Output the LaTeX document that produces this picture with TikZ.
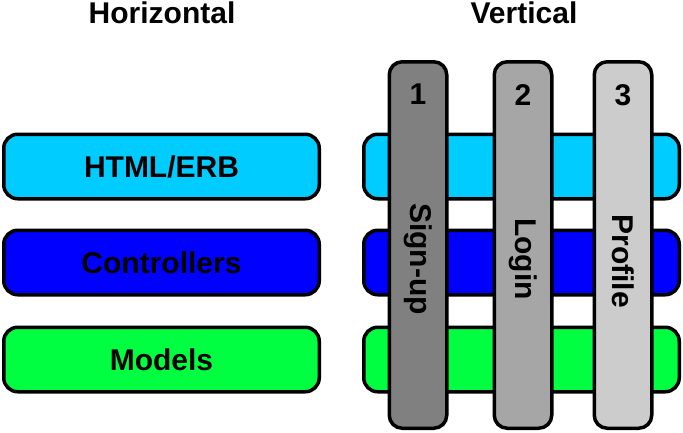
\documentclass[tikz,border=0pt]{standalone}
\usepackage{fontspec}
\setmainfont{Liberation Sans}
\usetikzlibrary{positioning}
\definecolor{viewcyan}{HTML}{00CCFF}
\definecolor{ctrlblue}{HTML}{0000FF}
\definecolor{modelgreen}{HTML}{00FF40}
\definecolor{slicedark}{HTML}{808080}
\definecolor{slicemid}{HTML}{A6A6A6}
\definecolor{slicelight}{HTML}{CCCCCC}
\tikzset{heading/.style={inner sep=0pt, font=\fontsize{30}{34}\selectfont\bfseries}}
\tikzset{layer/.style={heading, draw=black, line width=3.5pt, rounded corners=14pt, minimum width=315.5pt, minimum height=64.5pt}}
\tikzset{slice/.style={draw=black, line width=3.5pt, rounded corners=13pt, minimum width=57.5pt, minimum height=366.5pt, inner sep=0pt}}

\begin{document}
\begin{tikzpicture}[x=1pt, y=-1pt]
    \useasboundingbox (0,0) rectangle (683,432);
    % titles
    \node[heading, anchor=base] (horiz) at (162,23.5) {Horizontal};
    \node[heading, anchor=base] (vert) at (524,23.5) {Vertical};
    % horizontal layers
    \node[layer, fill=viewcyan] (html) at (161.5,166.5) {HTML/ERB};
    \node[layer, fill=ctrlblue, below=28pt of html] (ctrl) {Controllers};
    \node[layer, fill=modelgreen, below=29pt of ctrl] (model) {Models};
    \node[layer, fill=viewcyan, right=41pt of html] (htmlR) {};
    \node[layer, fill=ctrlblue, right=41pt of ctrl] (ctrlR) {};
    \node[layer, fill=modelgreen, right=41pt of model] (modelR) {};
    % vertical slices
    \node[slice, fill=slicedark] (s1) at (418,245) {};
    \node[slice, fill=slicemid, right=44pt of s1] (s2) {};
    \node[slice, fill=slicelight, right=39pt of s2] (s3) {};
    \node[heading, below=24pt of s1.north] (n1) {1};
    \node[heading, below=24pt of s2.north] (n2) {2};
    \node[heading, below=24pt of s3.north] (n3) {3};
    \node[heading, rotate=-90] (signup) at (s1 |- 0,259) {Sign-up};
    \node[heading, rotate=-90] (login) at (s2 |- 0,259) {Login};
    \node[heading, rotate=-90] (profile) at (s3 |- 0,261) {Profile};
\end{tikzpicture}
\end{document}
